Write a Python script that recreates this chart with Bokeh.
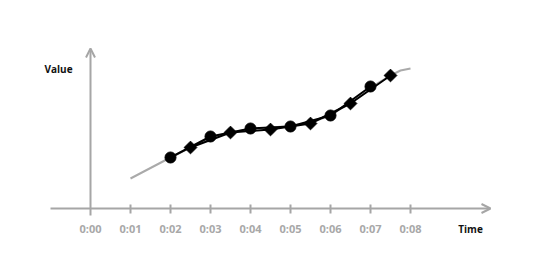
import math
from bokeh.plotting import figure
from bokeh.models import Arrow, OpenHead
from bokeh.core.properties import value
from bokeh.embed import file_html
from bokeh.resources import INLINE

# Data
curve_t = [1, 1.5, 2, 2.5, 3, 3.5, 4, 4.5, 5, 5.5, 6, 6.5, 7, 7.5, 7.75, 8]
curve_v = [3.0, 4.05, 5.1, 6.1, 7.1, 7.6, 7.95, 8.1, 8.25, 8.6, 9.3, 10.6, 12.1, 13.3, 13.8, 14.0]
circle_t = [2, 3, 4, 5, 6, 7]
circle_v = [5.1, 7.2, 8.0, 8.2, 9.3, 12.2]
diamond_t = [2.5, 3.5, 4.5, 5.5, 6.5, 7.5]
diamond_v = [6.1, 7.6, 7.9, 8.5, 10.5, 13.3]
tick_t = [0, 1, 2, 3, 4, 5, 6, 7, 8]
tick_labels = ["0:00", "0:01", "0:02", "0:03", "0:04", "0:05", "0:06", "0:07", "0:08"]

AX = "#a6a6a6"

p = figure(width=540, height=279, x_range=(-2.25, 11.25), y_range=(-7.1, 20.8),
           output_backend="svg", toolbar_location=None, min_border=0)
p.axis.visible = False
p.grid.visible = False
p.outline_line_color = None
p.background_fill_color = "white"

# axes
p.add_layout(Arrow(end=OpenHead(size=9, line_color=AX, line_width=2),
                   x_start=-1, y_start=0, x_end=10, y_end=0,
                   line_color=AX, line_width=2))
p.add_layout(Arrow(end=OpenHead(size=9, line_color=AX, line_width=2),
                   x_start=0, y_start=-0.7, x_end=0, y_end=16.0,
                   line_color=AX, line_width=2))
tt = tick_t[1:]
p.segment(x0=tt, y0=[-0.5] * len(tt), x1=tt, y1=[0.4] * len(tt), line_color=AX, line_width=2)
p.text(x=tick_t, y=[-2.0] * len(tick_t), text=tick_labels, text_align="center",
       text_baseline="middle", text_color="#a8a8a8", text_font=value("Open Sans"),
       text_font_size="11px", text_font_style="bold")
p.text(x=[9.5], y=[-2.0], text=["Time"], text_align="center", text_baseline="middle",
       text_color="#111111", text_font=value("Open Sans"), text_font_size="10px",
       text_font_style="bold")
p.text(x=[-0.8], y=[14.0], text=["Value"], text_align="center", text_baseline="middle",
       text_color="#111111", text_font=value("Open Sans"), text_font_size="10px",
       text_font_style="bold")

# data
p.line(curve_t, curve_v, line_color="#aaaaaa", line_width=2)
p.line(circle_t, circle_v, line_color="black", line_width=2)
p.line(diamond_t, diamond_v, line_color="black", line_width=2)
p.scatter(circle_t, circle_v, marker="circle", size=11, color="black")
p.scatter(diamond_t, diamond_v, marker="square", size=9, angle=math.pi / 4, color="black")

open("out.html", "w").write(file_html(p, INLINE))
